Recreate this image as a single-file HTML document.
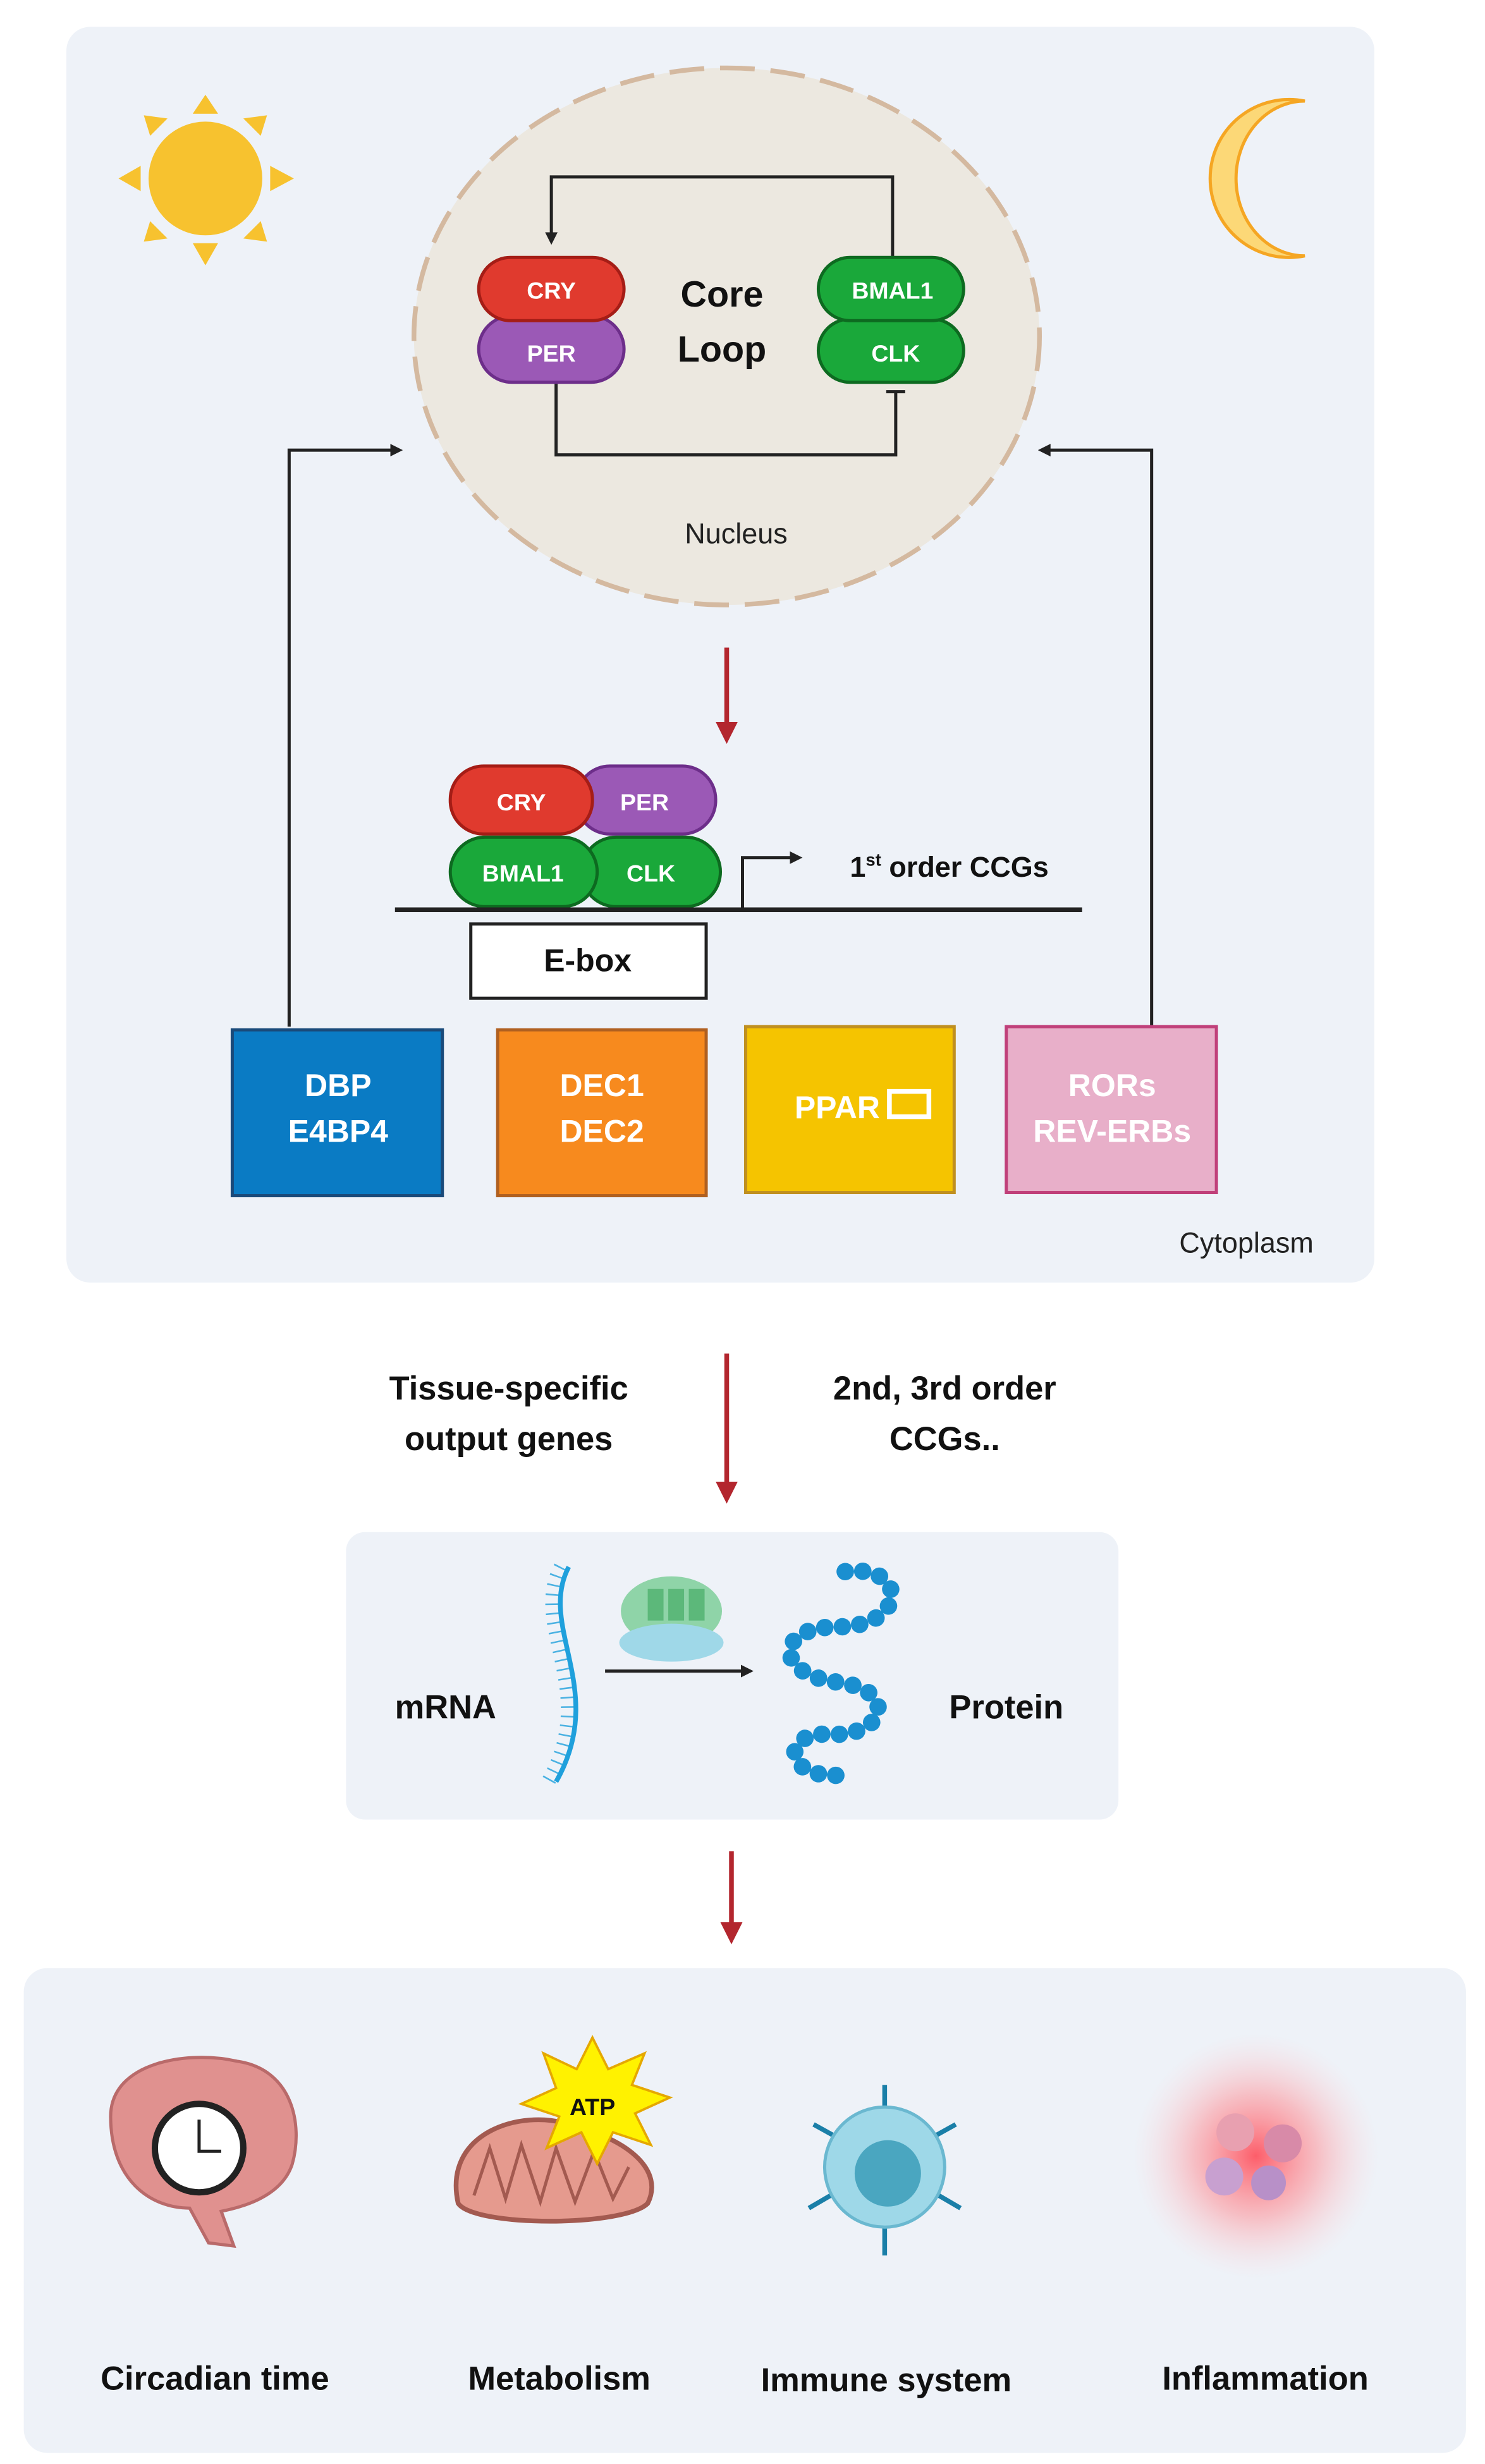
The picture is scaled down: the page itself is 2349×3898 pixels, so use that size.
<!DOCTYPE html>
<html><head><meta charset="utf-8"><style>
html,body{margin:0;padding:0;background:#fff}
svg{display:block}
text{font-family:"Liberation Sans",sans-serif}
</style></head><body>
<svg width="2349" height="3898" viewBox="0 0 940 1560" xmlns="http://www.w3.org/2000/svg">
<defs>
<marker id="ah" markerWidth="8" markerHeight="8" refX="6" refY="4" orient="auto" markerUnits="userSpaceOnUse"><path d="M0,0 L8,4 L0,8 Z" fill="#222"/></marker>
<marker id="rh" markerWidth="14" markerHeight="14" refX="10" refY="7" orient="auto" markerUnits="userSpaceOnUse"><path d="M0,0 L14,7 L0,14 Z" fill="#b3262e"/></marker>
<radialGradient id="inf"><stop offset="0" stop-color="#ff4d5a" stop-opacity="0.9"/><stop offset="0.5" stop-color="#ff8a90" stop-opacity="0.5"/><stop offset="1" stop-color="#ffd0d4" stop-opacity="0"/></radialGradient>
</defs>
<rect width="940" height="1560" fill="#fff"/>
<!-- top panel -->
<rect x="42" y="17" width="828" height="795" rx="15" fill="#eef2f8"/>
<!-- sun -->
<g fill="#f7c22f">
<circle cx="130" cy="113" r="36"/>
<polygon points="122,72 138,72 130,60"/><polygon points="122,154 138,154 130,168"/>
<polygon points="89,105 89,121 75,113"/><polygon points="171,105 171,121 186,113"/>
<polygon points="95,86 106,75 91,73"/><polygon points="154,75 165,86 169,73"/>
<polygon points="95,140 106,151 91,153"/><polygon points="154,151 165,140 169,153"/>
</g>
<!-- moon -->
<path d="M826,64 A50,50 0 1,0 826,162 A40,45 0 1,1 826,64 Z" fill="#fcd877" stroke="#f5a623" stroke-width="2"/>
<!-- nucleus -->
<ellipse cx="460" cy="213" rx="198" ry="170" fill="#ece8e0" stroke="#d4b9a0" stroke-width="3" stroke-dasharray="22,10"/>
<text x="466" y="344" font-size="18" text-anchor="middle" fill="#222">Nucleus</text>
<path d="M565,163 V112 H349 V153" fill="none" stroke="#222" stroke-width="2" marker-end="url(#ah)"/>
<path d="M352,242 V288 H567 V248" fill="none" stroke="#222" stroke-width="2"/>
<line x1="561" y1="248" x2="573" y2="248" stroke="#222" stroke-width="2"/>
<rect x="303" y="200" width="92" height="42" rx="21" fill="#9b59b6" stroke="#6d2e8a" stroke-width="2"/>
<rect x="303" y="163" width="92" height="40" rx="20" fill="#e03a2e" stroke="#a51d16" stroke-width="2"/>
<text x="349" y="189" font-size="15" fill="#fff" text-anchor="middle" font-weight="bold">CRY</text>
<text x="349" y="229" font-size="15" fill="#fff" text-anchor="middle" font-weight="bold">PER</text>
<rect x="518" y="202" width="92" height="40" rx="20" fill="#1aa83a" stroke="#0d6a20" stroke-width="2"/>
<rect x="518" y="163" width="92" height="40" rx="20" fill="#1aa83a" stroke="#0d6a20" stroke-width="2"/>
<text x="565" y="189" font-size="15" fill="#fff" text-anchor="middle" font-weight="bold">BMAL1</text>
<text x="567" y="229" font-size="15" fill="#fff" text-anchor="middle" font-weight="bold">CLK</text>
<text x="457" y="194" font-size="23" text-anchor="middle" font-weight="bold" fill="#111">Core</text>
<text x="457" y="229" font-size="23" text-anchor="middle" font-weight="bold" fill="#111">Loop</text>
<!-- side arrows -->
<path d="M183,650 V285 H253" fill="none" stroke="#222" stroke-width="2" marker-end="url(#ah)"/>
<path d="M729,650 V285 H659" fill="none" stroke="#222" stroke-width="2" marker-end="url(#ah)"/>
<line x1="460" y1="410" x2="460" y2="467" stroke="#b3262e" stroke-width="3" marker-end="url(#rh)"/>
<!-- complex -->
<rect x="365" y="485" width="88" height="43" rx="21" fill="#9b59b6" stroke="#6d2e8a" stroke-width="2"/>
<rect x="285" y="485" width="90" height="43" rx="21" fill="#e03a2e" stroke="#a51d16" stroke-width="2"/>
<rect x="368" y="530" width="88" height="44" rx="22" fill="#1aa83a" stroke="#0d6a20" stroke-width="2"/>
<rect x="285" y="530" width="93" height="44" rx="22" fill="#1aa83a" stroke="#0d6a20" stroke-width="2"/>
<text x="330" y="513" font-size="15" fill="#fff" text-anchor="middle" font-weight="bold">CRY</text>
<text x="408" y="513" font-size="15" fill="#fff" text-anchor="middle" font-weight="bold">PER</text>
<text x="331" y="558" font-size="15" fill="#fff" text-anchor="middle" font-weight="bold">BMAL1</text>
<text x="412" y="558" font-size="15" fill="#fff" text-anchor="middle" font-weight="bold">CLK</text>
<line x1="250" y1="576" x2="685" y2="576" stroke="#222" stroke-width="3"/>
<path d="M470,576 V543 H506" fill="none" stroke="#222" stroke-width="2" marker-end="url(#ah)"/>
<text x="538" y="555" font-size="18" font-weight="bold" fill="#111">1<tspan font-size="11" dy="-7">st</tspan><tspan dy="7"> order CCGs</tspan></text>
<rect x="298" y="585" width="149" height="47" fill="#fff" stroke="#222" stroke-width="2"/>
<text x="372" y="615" font-size="20" font-weight="bold" text-anchor="middle" fill="#111">E-box</text>
<!-- boxes -->
<rect x="147" y="652" width="133" height="105" fill="#0a7bc4" stroke="#1a4a7a" stroke-width="2"/>
<text x="214" y="694" font-size="20" fill="#fff" text-anchor="middle" font-weight="bold">DBP</text>
<text x="214" y="723" font-size="20" fill="#fff" text-anchor="middle" font-weight="bold">E4BP4</text>
<rect x="315" y="652" width="132" height="105" fill="#f78a1e" stroke="#b06020" stroke-width="2"/>
<text x="381" y="694" font-size="20" fill="#fff" text-anchor="middle" font-weight="bold">DEC1</text>
<text x="381" y="723" font-size="20" fill="#fff" text-anchor="middle" font-weight="bold">DEC2</text>
<rect x="472" y="650" width="132" height="105" fill="#f5c400" stroke="#c09020" stroke-width="2"/>
<text x="530" y="708" font-size="20" fill="#fff" text-anchor="middle" font-weight="bold">PPAR</text>
<rect x="563" y="691" width="25" height="16" fill="none" stroke="#fff" stroke-width="3"/>
<rect x="637" y="650" width="133" height="105" fill="#e8afc9" stroke="#c0407a" stroke-width="2"/>
<text x="704" y="694" font-size="20" fill="#fff" text-anchor="middle" font-weight="bold">RORs</text>
<text x="704" y="723" font-size="20" fill="#fff" text-anchor="middle" font-weight="bold">REV-ERBs</text>
<text x="789" y="793" font-size="18" text-anchor="middle" fill="#222">Cytoplasm</text>
<!-- middle -->
<line x1="460" y1="857" x2="460" y2="948" stroke="#b3262e" stroke-width="3" marker-end="url(#rh)"/>
<text x="322" y="886" font-size="21" font-weight="bold" text-anchor="middle" fill="#111">Tissue-specific</text>
<text x="322" y="918" font-size="21" font-weight="bold" text-anchor="middle" fill="#111">output genes</text>
<text x="598" y="886" font-size="21" font-weight="bold" text-anchor="middle" fill="#111">2nd, 3rd order</text>
<text x="598" y="918" font-size="21" font-weight="bold" text-anchor="middle" fill="#111">CCGs..</text>
<rect x="219" y="970" width="489" height="182" rx="12" fill="#eef2f8"/>
<text x="282" y="1088" font-size="21" font-weight="bold" text-anchor="middle" fill="#111">mRNA</text>
<text x="637" y="1088" font-size="21" font-weight="bold" text-anchor="middle" fill="#111">Protein</text>
<path d="M360,992 C340,1030 385,1070 352,1128" fill="none" stroke="#1fa0dc" stroke-width="3"/>
<path d="M360,992 C340,1030 385,1070 352,1128" fill="none" stroke="#1fa0dc" stroke-width="9" stroke-dasharray="1,5" opacity="0.8" transform="translate(-5,0)"/>
<ellipse cx="425" cy="1020" rx="32" ry="22" fill="#8fd4a8"/>
<ellipse cx="425" cy="1040" rx="33" ry="12" fill="#9fd8e8"/>
<rect x="410" y="1006" width="10" height="20" fill="#5cb87a"/><rect x="423" y="1006" width="10" height="20" fill="#5cb87a"/><rect x="436" y="1006" width="10" height="20" fill="#5cb87a"/>
<line x1="383" y1="1058" x2="475" y2="1058" stroke="#222" stroke-width="2" marker-end="url(#ah)"/>
<path d="M535,995 C575,990 575,1030 530,1030 C490,1030 490,1060 530,1065 C570,1070 560,1100 525,1098 C495,1096 495,1125 530,1124" fill="none" stroke="#1a8fd0" stroke-width="11" stroke-dasharray="0.1,11" stroke-linecap="round"/>
<line x1="463" y1="1172" x2="463" y2="1227" stroke="#b3262e" stroke-width="3" marker-end="url(#rh)"/>
<!-- bottom -->
<rect x="15" y="1246" width="913" height="307" rx="15" fill="#eef2f8"/>
<path d="M70,1340 C70,1305 120,1298 150,1305 C185,1310 192,1345 185,1370 C178,1392 150,1398 140,1400 L148,1422 L132,1420 L120,1398 C95,1398 70,1380 70,1340Z" fill="#e0918f" stroke="#b96a6a" stroke-width="2"/>
<circle cx="126" cy="1360" r="28" fill="#fff" stroke="#222" stroke-width="4"/>
<path d="M126,1342 V1362 H140" fill="none" stroke="#222" stroke-width="2"/>
<path d="M290,1395 C280,1350 330,1335 360,1345 C400,1355 420,1375 410,1395 C395,1410 300,1410 290,1395Z" fill="#e59a8e" stroke="#a35a50" stroke-width="3"/>
<path d="M300,1390 L310,1360 L320,1392 L330,1358 L342,1394 L352,1360 L364,1394 L376,1362 L388,1392 L398,1372" fill="none" stroke="#a35a50" stroke-width="2"/>
<polygon points="375,1290 385,1310 408,1300 400,1320 424,1328 402,1338 412,1358 388,1350 378,1370 368,1350 346,1360 354,1340 330,1332 352,1322 344,1300 365,1310" fill="#fff200" stroke="#e5a800" stroke-width="1.5"/>
<text x="375" y="1339" font-size="15" font-weight="bold" text-anchor="middle" fill="#111">ATP</text>
<g stroke="#1a7fa8" stroke-width="3">
<line x1="560" y1="1370" x2="560" y2="1320"/><line x1="560" y1="1370" x2="560" y2="1428"/>
<line x1="560" y1="1370" x2="515" y2="1345"/><line x1="560" y1="1370" x2="605" y2="1345"/>
<line x1="560" y1="1370" x2="512" y2="1398"/><line x1="560" y1="1370" x2="608" y2="1398"/>
</g>
<circle cx="560" cy="1372" r="38" fill="#9ed8e8" stroke="#6ab8d0" stroke-width="2"/>
<circle cx="562" cy="1376" r="21" fill="#4aa6c0"/>
<circle cx="795" cy="1365" r="78" fill="url(#inf)"/>
<circle cx="782" cy="1350" r="12" fill="#e8a0b0"/><circle cx="812" cy="1357" r="12" fill="#d88aa8"/><circle cx="775" cy="1378" r="12" fill="#c8a0d0"/><circle cx="803" cy="1382" r="11" fill="#b890c8"/>
<text x="136" y="1513" font-size="21" font-weight="bold" text-anchor="middle" fill="#111">Circadian time</text>
<text x="354" y="1513" font-size="21" font-weight="bold" text-anchor="middle" fill="#111">Metabolism</text>
<text x="561" y="1514" font-size="21" font-weight="bold" text-anchor="middle" fill="#111">Immune system</text>
<text x="801" y="1513" font-size="21" font-weight="bold" text-anchor="middle" fill="#111">Inflammation</text>
</svg>
</body></html>
